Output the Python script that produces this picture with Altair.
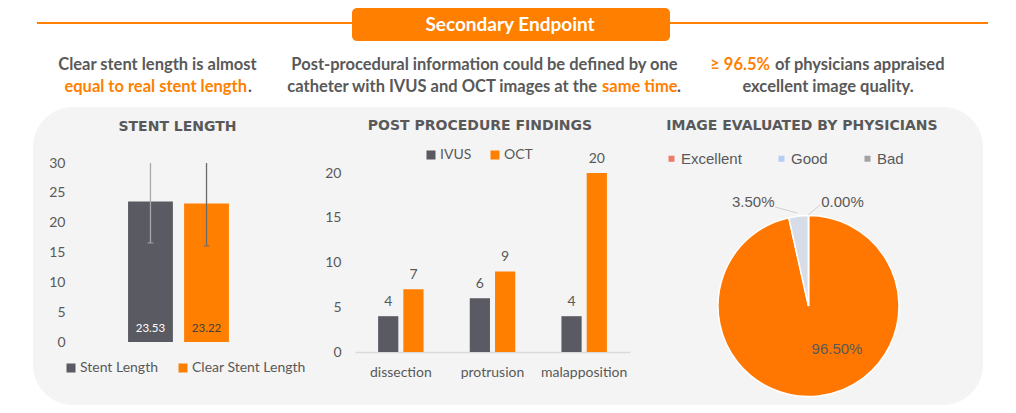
import altair as alt
import pandas as pd

ORANGE = "#FF7F00"
DARK = "#595A62"
TEXT = "#595959"
PANEL = "#F4F4F4"

# ---------------- data ----------------
stent_series = ["Stent Length", "Clear Stent Length"]
stent_mean = [23.53, 23.22]
stent_err_low = [16.6, 16.1]
stent_err_high = [30.0, 30.0]
stent_labels = ["23.53", "23.22"]
stent_ticks = [0, 5, 10, 15, 20, 25, 30]

findings = ["dissection", "protrusion", "malapposition"]
finding_series = ["IVUS", "OCT"]
ivus_counts = [4, 6, 4]
oct_counts = [7, 9, 20]
finding_ticks = [0, 5, 10, 15, 20]

quality = ["Excellent", "Good", "Bad"]
quality_pct = [96.5, 3.5, 0.0]
quality_labels = ["96.50%", "3.50%", "0.00%"]

# ---------------- helpers (decoration, pixel space of panel 1) ----------------
one = pd.DataFrame({"k": [0]})


def rect(x1, y1, x2, y2, fill, r=0):
    return alt.Chart(one).mark_rect(fill=fill, cornerRadius=r).encode(
        x=alt.value(x1), x2=alt.value(x2), y=alt.value(y1), y2=alt.value(y2)
    )


def txt(s, x, y, color=TEXT, size=16.5, font="Lato", weight="bold", align="center"):
    return alt.Chart(pd.DataFrame({"t": [s]})).mark_text(
        font=font, fontSize=size, fontWeight=weight, color=color,
        align=align, baseline="middle"
    ).encode(text="t:N", x=alt.value(x), y=alt.value(y))


def title_txt(s, x, y):
    return txt(s, x, y, color=TEXT, size=14, font="DejaVu Sans", weight="bold")


# ---------------- panel 1: stent length ----------------
s1 = pd.DataFrame({
    "series": stent_series, "mean": stent_mean,
    "lo": stent_err_low, "hi": stent_err_high, "lab": stent_labels,
})
y1scale = alt.Scale(domain=[0, 30], nice=False)
y1axis = alt.Axis(values=stent_ticks, labelPadding=7, zindex=1)
x1enc = alt.X("series:N", sort=stent_series,
              scale=alt.Scale(paddingInner=0.2, paddingOuter=1.0), axis=None)

bars1 = alt.Chart(s1).mark_bar().encode(
    x=x1enc,
    y=alt.Y("mean:Q", scale=y1scale, title=None, axis=y1axis),
    color=alt.Color("series:N", sort=stent_series,
                    scale=alt.Scale(domain=stent_series, range=[DARK, ORANGE]),
                    legend=alt.Legend(orient="none", legendX=-8, legendY=198,
                                      direction="horizontal", title=None,
                                      symbolType="square", symbolSize=81,
                                      columnPadding=18, labelOffset=2,
                                      padding=0, zindex=1)),
)
err_color = alt.condition(alt.datum.series == "Stent Length",
                          alt.value("#A8A8A8"), alt.value("#6B6B6B"))
err1 = alt.Chart(s1).mark_rule(strokeWidth=1.3).encode(
    x=x1enc, y=alt.Y("lo:Q", scale=y1scale, title=None, axis=y1axis),
    y2="hi:Q", color=err_color)
caps1 = alt.Chart(s1).mark_tick(thickness=1.3, size=6).encode(
    x=x1enc, y=alt.Y("lo:Q", scale=y1scale, title=None, axis=y1axis),
    color=err_color)
labels1 = alt.Chart(s1).mark_text(font="Lato", fontSize=11.5, baseline="middle", dy=-13).encode(
    x=x1enc, y=alt.Y(datum=0, scale=y1scale, title=None, axis=y1axis), text="lab:N",
    color=alt.condition(alt.datum.series == "Stent Length",
                        alt.value("#FFFFFF"), alt.value("#404040")))

# decoration (coordinates relative to panel-1 view origin)
deco = [
    rect(-64, -155, 936, 242, "#FFFFFF"),
    rect(-39, -56, 911, 242, PANEL, 40),
    alt.Chart(one).mark_rule(color=ORANGE, strokeWidth=2).encode(
        x=alt.value(-35), x2=alt.value(916), y=alt.value(-140)),
    rect(280, -155, 598, -122, ORANGE, 5),
    txt("Secondary Endpoint", 438, -138, color="#FFFFFF", size=19),
    # column 1
    txt("Clear stent length is almost", 85.5, -98),
    txt("equal to real stent length", 175, -76, color=ORANGE, align="right"),
    txt(".", 176, -76, align="left"),
    # column 2
    txt("Post-procedural information could be defined by one", 412.5, -98),
    txt("catheter with IVUS and OCT images at the", 525, -76, align="right"),
    txt("same time", 530, -76, color=ORANGE, align="left"),
    txt(".", 605, -76, align="left"),
    # column 3
    txt("\u2265 96.5%", 698, -98, color=ORANGE, align="right"),
    txt("of physicians appraised", 703, -98, align="left"),
    txt("excellent image quality.", 756, -76),
    title_txt("STENT LENGTH", 105.5, -36),
]

p1 = alt.layer(*deco, bars1, err1, caps1, labels1).properties(width=213, height=179)

# ---------------- panel 2: post procedure findings ----------------
rows = []
for c, a, b in zip(findings, ivus_counts, oct_counts):
    rows.append({"category": c, "series": "IVUS", "value": a})
    rows.append({"category": c, "series": "OCT", "value": b})
s2 = pd.DataFrame(rows)

x2enc = alt.X("category:N", sort=findings, title=None,
              scale=alt.Scale(paddingInner=0, paddingOuter=0),
              axis=alt.Axis(labelAngle=0, labelPadding=13, domain=True,
                            domainColor="#D9D9D9", domainWidth=1.5, ticks=False))
xo2 = alt.XOffset("series:N", sort=finding_series,
                  scale=alt.Scale(paddingInner=0.2, paddingOuter=0.915))
y2scale = alt.Scale(domain=[0, 20], range=[189, 10], nice=False)
y2axis = alt.Axis(values=finding_ticks, labelPadding=14)

bars2 = alt.Chart(s2).mark_bar().encode(
    x=x2enc, xOffset=xo2,
    y=alt.Y("value:Q", scale=y2scale, title=None, axis=y2axis),
    color=alt.Color("series:N", sort=finding_series,
                    scale=alt.Scale(domain=finding_series, range=[DARK, ORANGE]),
                    legend=alt.Legend(orient="none", legendX=69, legendY=-15,
                                      direction="horizontal", title=None,
                                      symbolType="square", symbolSize=81,
                                      columnPadding=16, labelOffset=2, padding=0)),
)
labels2 = alt.Chart(s2).mark_text(font="Lato", fontSize=14, color=TEXT,
                                  baseline="middle", dy=-14).encode(
    x=x2enc, xOffset=xo2, y=alt.Y("value:Q", scale=y2scale, title=None, axis=y2axis),
    text="value:Q")

p2 = alt.layer(bars2, labels2, title_txt("POST PROCEDURE FINDINGS", 125, -37)).properties(
    width=275, height=189)

# ---------------- panel 3: image quality pie ----------------
s3 = pd.DataFrame({"category": quality, "pct": quality_pct, "lab": quality_labels})
CX, CY, R = 108.5, 143, 90.5

legend_dummy = alt.Chart(s3).mark_square(size=1).encode(
    x=alt.value(CX), y=alt.value(CY),
    fill=alt.Fill("category:N", sort=quality,
                  scale=alt.Scale(domain=quality, range=["#E8472B", "#9DBDF2", "#7F7F7F"]),
                  legend=alt.Legend(orient="none", legendX=-36, legendY=-12,
                                    direction="horizontal", title=None,
                                    symbolType="square", symbolSize=36,
                                    labelFont="Liberation Sans", labelFontSize=15,
                                    columnPadding=32, labelOffset=2, padding=0)),
)
arc = alt.Chart(s3).mark_arc(radius=R, stroke="#FFFFFF", strokeWidth=1.5).encode(
    x=alt.value(CX), y=alt.value(CY),
    theta=alt.Theta("pct:Q", stack=True),
    order=alt.Order("pct:Q", sort="descending"),
    color=alt.Color("category:N", sort=quality,
                    scale=alt.Scale(domain=quality, range=["#FF7700", "#D6DCE8", "#A5A5A5"]),
                    legend=None),
)
lbl_base = alt.Chart(s3).transform_window(
    cum="sum(pct)", sort=[alt.SortField("pct", order="descending")]
).transform_calculate(mid="datum.cum - datum.pct / 2")


def pie_label(cat, radius, dx, dy):
    return lbl_base.transform_filter(alt.datum.category == cat).mark_text(
        radius=radius, dx=dx, dy=dy, font="Liberation Sans", fontSize=15,
        color=TEXT, baseline="middle"
    ).encode(x=alt.value(CX), y=alt.value(CY),
             theta=alt.Theta("mid:Q", scale=alt.Scale(domain=[0, 100])),
             text="lab:N")


def leader(x1, y1, x2, y2):
    return alt.Chart(one).mark_rule(color="#C8C8C8", strokeWidth=0.8).encode(
        x=alt.value(x1), y=alt.value(y1), x2=alt.value(x2), y2=alt.value(y2))


p3 = alt.layer(
    legend_dummy, arc,
    pie_label("Excellent", 50, 23, -7),
    pie_label("Good", 112, -43, 7),
    pie_label("Bad", 104, 34, 0),
    leader(75, 44, 97, 50), leader(120, 42, 108, 52),
    title_txt("IMAGE EVALUATED BY PHYSICIANS", 102, -37),
).resolve_scale(theta="independent").properties(width=250, height=189)

chart = alt.hconcat(p1, p2, p3, spacing=70, bounds="flush").resolve_scale(
    color="independent", fill="independent", x="independent", y="independent"
).resolve_legend(color="independent", fill="independent").properties(
    padding=0, background="#FFFFFF"
).configure_view(stroke=None).configure_axis(
    labelFont="Lato", labelFontSize=14, labelColor=TEXT, grid=False,
    domain=False, ticks=False
).configure_legend(
    labelFont="Lato", labelFontSize=14, labelColor=TEXT, symbolStrokeWidth=0
)

chart.save("out.html", embed_options={"renderer": "svg", "actions": False})
